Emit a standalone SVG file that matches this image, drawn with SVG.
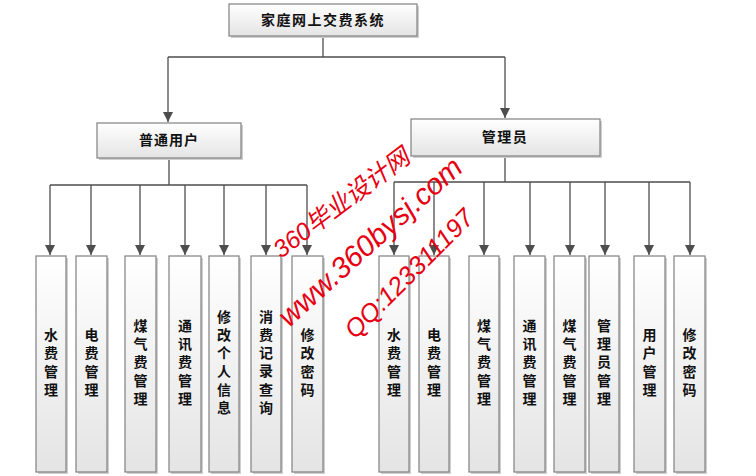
<svg xmlns="http://www.w3.org/2000/svg" width="756" height="476" viewBox="0 0 756 476">
<defs>
<linearGradient id="g" x1="0" y1="0" x2="0" y2="1">
<stop offset="0" stop-color="#ffffff"/>
<stop offset="1" stop-color="#e4e4e4"/>
</linearGradient>
<marker id="a" markerUnits="userSpaceOnUse" markerWidth="10" markerHeight="10" viewBox="0 0 10 10" refX="10" refY="5" orient="auto">
<path d="M0,0 L10,5 L0,10 Z" fill="#4d4d4d"/>
</marker>
</defs>
<style>
.box{fill:url(#g);stroke:#808080;stroke-width:1.2}
.sh{fill:#cfcfcf}
.t{font-family:"Noto Sans CJK SC","Noto Sans",sans-serif;font-size:14px;font-weight:bold;fill:#111;text-anchor:middle}
.c{fill:none;stroke:#4d4d4d;stroke-width:1.3}
.ca{fill:none;stroke:#4d4d4d;stroke-width:1.3;marker-end:url(#a)}
.wm{font-family:"Liberation Sans","Noto Sans CJK SC",sans-serif;fill:#e60012;font-style:italic}
</style>
<rect width="756" height="476" fill="#ffffff"/>

<g id="connectors">
<path class="c" d="M323,36 V57 M168,57 H505"/>
<path class="ca" d="M168,57 V122"/>
<path class="ca" d="M505,57 V118"/>
<path class="c" d="M169,158 V185 M50,185 H307"/>
<path class="ca" d="M50,185 V255"/>
<path class="ca" d="M91,185 V255"/>
<path class="ca" d="M140,185 V255"/>
<path class="ca" d="M185,185 V255"/>
<path class="ca" d="M224,185 V255"/>
<path class="ca" d="M266,185 V255"/>
<path class="ca" d="M307,185 V255"/>
<path class="c" d="M505,156 V182 M394,182 H690"/>
<path class="ca" d="M394,182 V255"/>
<path class="ca" d="M434,182 V255"/>
<path class="ca" d="M484,182 V255"/>
<path class="ca" d="M530,182 V255"/>
<path class="ca" d="M570,182 V255"/>
<path class="ca" d="M605,182 V255"/>
<path class="ca" d="M649,182 V255"/>
<path class="ca" d="M690,182 V255"/>
</g>

<g id="root">
<rect class="sh" x="231" y="6" width="188" height="32"/>
<rect class="box" x="229" y="4" width="188" height="32"/>
<text class="t" x="323" y="25" letter-spacing="1.5">家庭网上交费系统</text>
</g>
<g id="user">
<rect class="sh" x="99" y="125" width="144" height="35"/>
<rect class="box" x="97" y="123" width="144" height="35"/>
<text class="t" x="169" y="145" letter-spacing="1">普通用户</text>
</g>
<g id="admin">
<rect class="sh" x="413" y="121" width="189" height="37"/>
<rect class="box" x="411" y="119" width="189" height="37"/>
<text class="t" x="505" y="142" letter-spacing="1.5">管理员</text>
</g>

<g id="u1"><rect class="sh" x="38" y="258" width="30" height="216"/><rect class="box" x="36" y="256" width="30" height="216"/>
<text class="t"><tspan x="51" y="340">水</tspan><tspan x="51" y="358.3">费</tspan><tspan x="51" y="376.6">管</tspan><tspan x="51" y="394.9">理</tspan></text></g>
<g id="u2"><rect class="sh" x="78" y="258" width="31" height="216"/><rect class="box" x="76" y="256" width="31" height="216"/>
<text class="t"><tspan x="91.5" y="340">电</tspan><tspan x="91.5" y="358.3">费</tspan><tspan x="91.5" y="376.6">管</tspan><tspan x="91.5" y="394.9">理</tspan></text></g>
<g id="u3"><rect class="sh" x="127" y="258" width="31" height="216"/><rect class="box" x="125" y="256" width="31" height="216"/>
<text class="t"><tspan x="140.5" y="330.8">煤</tspan><tspan x="140.5" y="349.1">气</tspan><tspan x="140.5" y="367.4">费</tspan><tspan x="140.5" y="385.7">管</tspan><tspan x="140.5" y="404">理</tspan></text></g>
<g id="u4"><rect class="sh" x="171" y="258" width="32" height="216"/><rect class="box" x="169" y="256" width="32" height="216"/>
<text class="t"><tspan x="185" y="330.8">通</tspan><tspan x="185" y="349.1">讯</tspan><tspan x="185" y="367.4">费</tspan><tspan x="185" y="385.7">管</tspan><tspan x="185" y="404">理</tspan></text></g>
<g id="u5"><rect class="sh" x="211" y="258" width="30" height="216"/><rect class="box" x="209" y="256" width="30" height="216"/>
<text class="t"><tspan x="224" y="321.5">修</tspan><tspan x="224" y="339.8">改</tspan><tspan x="224" y="358.1">个</tspan><tspan x="224" y="376.4">人</tspan><tspan x="224" y="394.7">信</tspan><tspan x="224" y="413">息</tspan></text></g>
<g id="u6"><rect class="sh" x="253" y="258" width="30" height="216"/><rect class="box" x="251" y="256" width="30" height="216"/>
<text class="t"><tspan x="266" y="321.5">消</tspan><tspan x="266" y="339.8">费</tspan><tspan x="266" y="358.1">记</tspan><tspan x="266" y="376.4">录</tspan><tspan x="266" y="394.7">查</tspan><tspan x="266" y="413">询</tspan></text></g>
<g id="u7"><rect class="sh" x="294" y="258" width="31" height="216"/><rect class="box" x="292" y="256" width="31" height="216"/>
<text class="t"><tspan x="307.5" y="340">修</tspan><tspan x="307.5" y="358.3">改</tspan><tspan x="307.5" y="376.6">密</tspan><tspan x="307.5" y="394.9">码</tspan></text></g>

<g id="a1"><rect class="sh" x="381" y="258" width="30" height="216"/><rect class="box" x="379" y="256" width="30" height="216"/>
<text class="t"><tspan x="394" y="340">水</tspan><tspan x="394" y="358.3">费</tspan><tspan x="394" y="376.6">管</tspan><tspan x="394" y="394.9">理</tspan></text></g>
<g id="a2"><rect class="sh" x="421" y="258" width="30" height="216"/><rect class="box" x="419" y="256" width="30" height="216"/>
<text class="t"><tspan x="434" y="340">电</tspan><tspan x="434" y="358.3">费</tspan><tspan x="434" y="376.6">管</tspan><tspan x="434" y="394.9">理</tspan></text></g>
<g id="a3"><rect class="sh" x="471" y="258" width="30" height="216"/><rect class="box" x="469" y="256" width="30" height="216"/>
<text class="t"><tspan x="484" y="330.8">煤</tspan><tspan x="484" y="349.1">气</tspan><tspan x="484" y="367.4">费</tspan><tspan x="484" y="385.7">管</tspan><tspan x="484" y="404">理</tspan></text></g>
<g id="a4"><rect class="sh" x="516" y="258" width="31" height="216"/><rect class="box" x="514" y="256" width="31" height="216"/>
<text class="t"><tspan x="529.5" y="330.8">通</tspan><tspan x="529.5" y="349.1">讯</tspan><tspan x="529.5" y="367.4">费</tspan><tspan x="529.5" y="385.7">管</tspan><tspan x="529.5" y="404">理</tspan></text></g>
<g id="a5"><rect class="sh" x="556" y="258" width="31" height="216"/><rect class="box" x="554" y="256" width="31" height="216"/>
<text class="t"><tspan x="569.5" y="330.8">煤</tspan><tspan x="569.5" y="349.1">气</tspan><tspan x="569.5" y="367.4">费</tspan><tspan x="569.5" y="385.7">管</tspan><tspan x="569.5" y="404">理</tspan></text></g>
<g id="a6"><rect class="sh" x="591" y="258" width="30" height="216"/><rect class="box" x="589" y="256" width="30" height="216"/>
<text class="t"><tspan x="604" y="330.8">管</tspan><tspan x="604" y="349.1">理</tspan><tspan x="604" y="367.4">员</tspan><tspan x="604" y="385.7">管</tspan><tspan x="604" y="404">理</tspan></text></g>
<g id="a7"><rect class="sh" x="636" y="258" width="31" height="216"/><rect class="box" x="634" y="256" width="31" height="216"/>
<text class="t"><tspan x="649.5" y="340">用</tspan><tspan x="649.5" y="358.3">户</tspan><tspan x="649.5" y="376.6">管</tspan><tspan x="649.5" y="394.9">理</tspan></text></g>
<g id="a8"><rect class="sh" x="676" y="258" width="31" height="216"/><rect class="box" x="674" y="256" width="31" height="216"/>
<text class="t"><tspan x="689.5" y="340">修</tspan><tspan x="689.5" y="358.3">改</tspan><tspan x="689.5" y="376.6">密</tspan><tspan x="689.5" y="394.9">码</tspan></text></g>

<g id="watermark">
<text class="wm" x="281" y="259" font-size="24.5" transform="rotate(-37 281 259)">360毕业设计网</text>
<text class="wm" x="289" y="328" font-size="29.5" transform="rotate(-42 289 328)">www.360bysj.com</text>
<text class="wm" x="355" y="340" font-size="25.5" font-style="normal" transform="rotate(-45 355 340)">QQ:123311197</text>
</g>
</svg>
